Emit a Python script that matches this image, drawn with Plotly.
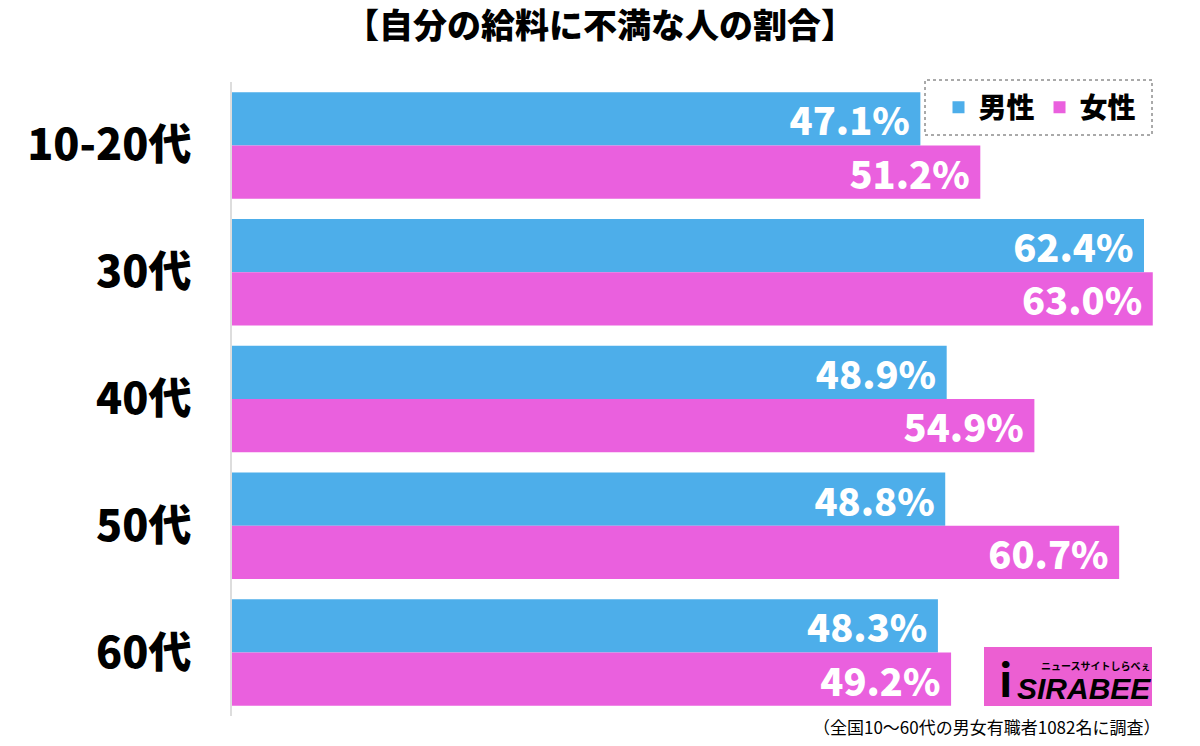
import plotly.graph_objects as go

categories = ["10-20代", "30代", "40代", "50代", "60代"]
male = [47.1, 62.4, 48.9, 48.8, 48.3]
female = [51.2, 63.0, 54.9, 60.7, 49.2]
series_names = ["男性", "女性"]

BLUE = "#4DAEEA"
PINK = "#EA60DE"
JP = "Noto Sans CJK JP"

W, H = 1200, 746
ML, MR, MT, MB = 232, 18, 82, 30
pw = W - ML - MR
ph = H - MT - MB

def px(x):
    return (x - ML) / pw

def py(y):
    return (H - MB - y) / ph

fig = go.Figure()
for name, vals, col in [(series_names[0], male, BLUE), (series_names[1], female, PINK)]:
    fig.add_trace(go.Bar(
        y=categories, x=vals, name=name, orientation="h",
        marker=dict(color=col, line=dict(width=0)),
        text=[f"{v:.1f}%\u2009" for v in vals],
        textposition="inside", insidetextanchor="end", constraintext="none",
        textfont=dict(family=JP, size=38, color="white", weight=900),
        cliponaxis=False,
    ))

fig.update_layout(
    width=W, height=H,
    margin=dict(l=ML, r=MR, t=MT, b=MB),
    paper_bgcolor="white", plot_bgcolor="white",
    barmode="group", bargap=0.16, bargroupgap=0,
    title=dict(text="【自分の給料に不満な人の割合】", x=0.5, xanchor="center",
               y=1 - 26 / H, yanchor="middle",
               font=dict(family=JP, size=34, color="black", weight=900)),
    xaxis=dict(range=[0, 65], showgrid=False, zeroline=False, showticklabels=False,
               showline=False, fixedrange=True),
    yaxis=dict(autorange="reversed", showgrid=False, zeroline=False,
               showline=True, linecolor="#DDDDDD", linewidth=2,
               ticks="", ticklabelstandoff=30,
               tickfont=dict(family=JP, size=43, color="black", weight=900)),
    legend=dict(orientation="h", traceorder="normal",
                x=px(1040), xanchor="center", y=py(107.5), yanchor="middle",
                bgcolor="white", borderwidth=0,
                font=dict(family=JP, size=28, color="black", weight=900),
                itemwidth=30, itemsizing="constant"),
    showlegend=True,
)

# dotted legend frame
fig.add_shape(type="rect", xref="paper", yref="paper",
              x0=px(925), x1=px(1152), y0=py(135), y1=py(80),
              line=dict(color="#555555", width=1, dash="dot"),
              fillcolor="rgba(0,0,0,0)", layer="above")

# SIRABEE logo
fig.add_shape(type="rect", xref="paper", yref="paper",
              x0=px(984), x1=px(1152), y0=py(706), y1=py(647),
              line=dict(width=0), fillcolor="#EC5FD2", layer="above")
fig.add_annotation(xref="paper", yref="paper", x=px(1005), xanchor="center",
                   y=py(678), yanchor="middle",
                   text="<b>i</b>", showarrow=False,
                   font=dict(family=JP, size=44, color="black"))
fig.add_annotation(xref="paper", yref="paper", x=px(1084), xanchor="center",
                   y=py(688), yanchor="middle",
                   text="SIRABEE", showarrow=False,
                   font=dict(family="Liberation Sans", size=30, color="black",
                             weight="bold", style="italic"))
fig.add_annotation(xref="paper", yref="paper", x=px(1096), xanchor="center",
                   y=py(665), yanchor="middle",
                   text="ニュースサイトしらべぇ", showarrow=False,
                   font=dict(family=JP, size=10, color="black", weight="bold"))

# footnote
fig.add_annotation(xref="paper", yref="paper", x=px(1162), xanchor="right",
                   y=py(727), yanchor="middle",
                   text="（全国10〜60代の男女有職者1082名に調査）", showarrow=False,
                   font=dict(family=JP, size=17, color="black"))

fig.write_html("out.html")
